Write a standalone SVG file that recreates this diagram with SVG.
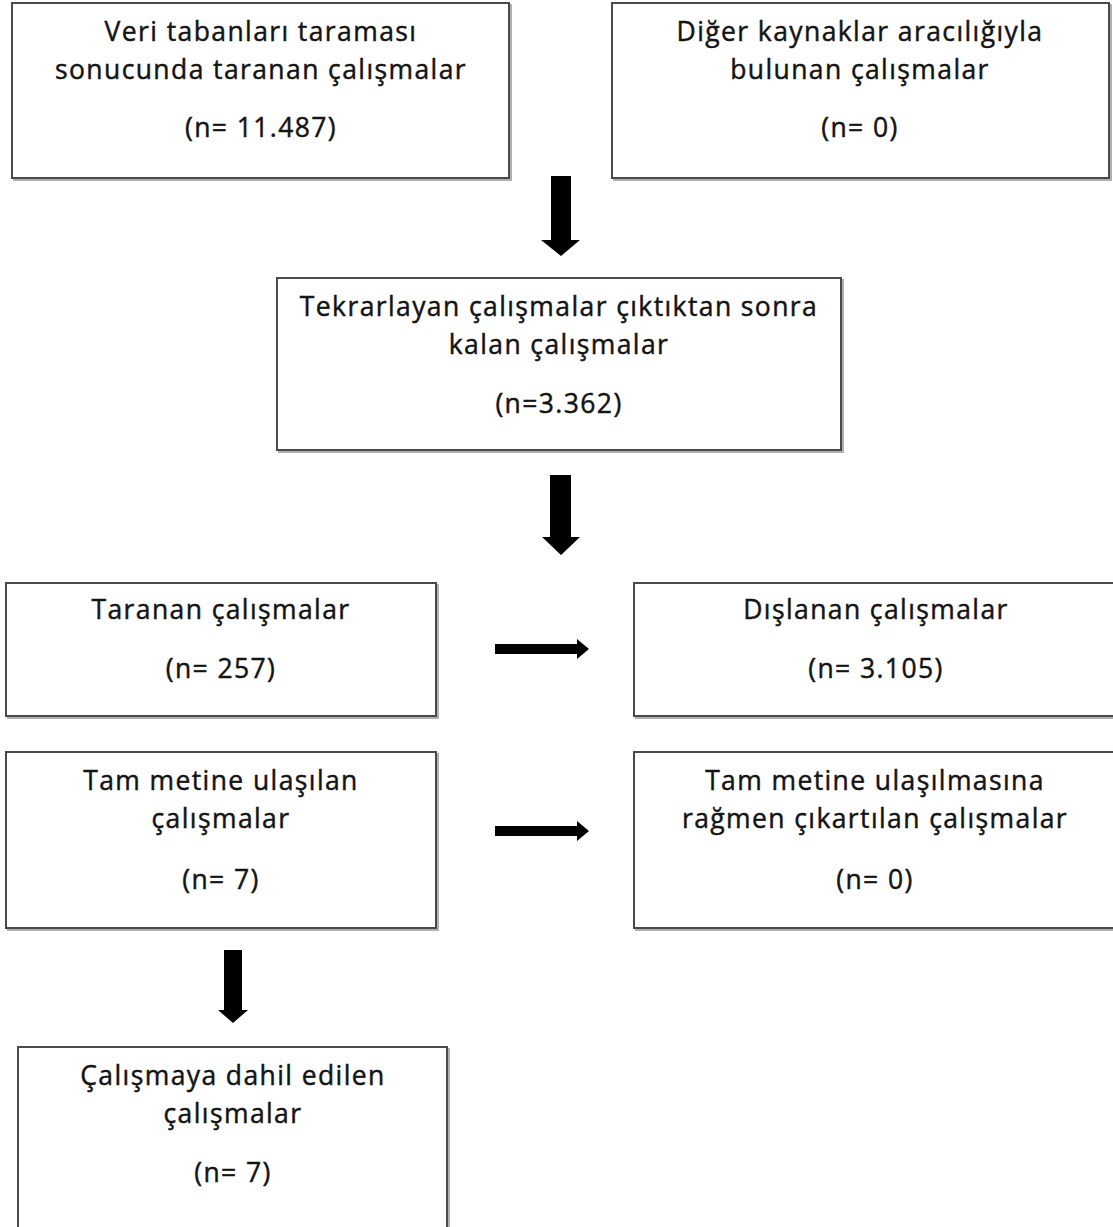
<svg xmlns="http://www.w3.org/2000/svg" width="1113" height="1227" viewBox="0 0 1113 1227">
<style>
.box{fill:#fff;stroke:#4a4a4a;stroke-width:2}
.shadow{fill:none;stroke:#b0b0b0;stroke-width:2}
.t{font-family:"Open Sans","Liberation Sans",sans-serif;font-size:26.5px;letter-spacing:1.4px;fill:#141414;stroke:#141414;stroke-width:0.45px;text-anchor:middle}
.arr{fill:#000}
</style>
<rect width="1113" height="1227" fill="#fff"/>
<g id="connectors">
<path class="arr" d="M551,176 H571 V240 H580 L561,256 L541,240 H551 Z"/>
<path class="arr" d="M550,475 H571 V537 H580 L561,555 L542,537 H550 Z"/>
<path class="arr" d="M495,644 H577 V639 L589,649 L577,659 V654 H495 Z"/>
<path class="arr" d="M495,826 H577 V821 L589,831 L577,841 V836 H495 Z"/>
<path class="arr" d="M224,950 H242 V1010 H248 L233,1023 L218,1010 H224 Z"/>
</g>
<g id="n1">
<rect class="shadow" x="14" y="5" width="497" height="175"/>
<rect class="box" x="12" y="3" width="497" height="175"/>
<text class="t" x="261" y="41">Veri tabanları taraması</text>
<text class="t" x="261" y="79">sonucunda taranan çalışmalar</text>
<text class="t" x="261" y="137">(n= 11.487)</text>
</g>
<g id="n2">
<rect class="shadow" x="614" y="5" width="497" height="175"/>
<rect class="box" x="612" y="3" width="497" height="175"/>
<text class="t" x="860" y="41">Diğer kaynaklar aracılığıyla</text>
<text class="t" x="860" y="79">bulunan çalışmalar</text>
<text class="t" x="860" y="137">(n= 0)</text>
</g>
<g id="n3">
<rect class="shadow" x="279" y="280" width="564" height="172"/>
<rect class="box" x="277" y="278" width="564" height="172"/>
<text class="t" x="559" y="316">Tekrarlayan çalışmalar çıktıktan sonra</text>
<text class="t" x="559" y="354">kalan çalışmalar</text>
<text class="t" x="559" y="413">(n=3.362)</text>
</g>
<g id="n4">
<rect class="shadow" x="8" y="585" width="430" height="133"/>
<rect class="box" x="6" y="583" width="430" height="133"/>
<text class="t" x="221" y="619">Taranan çalışmalar</text>
<text class="t" x="221" y="678">(n= 257)</text>
</g>
<g id="n5">
<rect class="shadow" x="636" y="585" width="484" height="133"/>
<rect class="box" x="634" y="583" width="484" height="133"/>
<text class="t" x="876" y="619">Dışlanan çalışmalar</text>
<text class="t" x="876" y="678">(n= 3.105)</text>
</g>
<g id="n6">
<rect class="shadow" x="8" y="754" width="430" height="176"/>
<rect class="box" x="6" y="752" width="430" height="176"/>
<text class="t" x="221" y="790">Tam metine ulaşılan</text>
<text class="t" x="221" y="828">çalışmalar</text>
<text class="t" x="221" y="889">(n= 7)</text>
</g>
<g id="n7">
<rect class="shadow" x="636" y="754" width="484" height="176"/>
<rect class="box" x="634" y="752" width="484" height="176"/>
<text class="t" x="875" y="790">Tam metine ulaşılmasına</text>
<text class="t" x="875" y="828">rağmen çıkartılan çalışmalar</text>
<text class="t" x="875" y="889">(n= 0)</text>
</g>
<g id="n8">
<rect class="shadow" x="20" y="1049" width="429" height="185"/>
<rect class="box" x="18" y="1047" width="429" height="185"/>
<text class="t" x="233" y="1085">Çalışmaya dahil edilen</text>
<text class="t" x="233" y="1123">çalışmalar</text>
<text class="t" x="233" y="1182">(n= 7)</text>
</g>
</svg>
